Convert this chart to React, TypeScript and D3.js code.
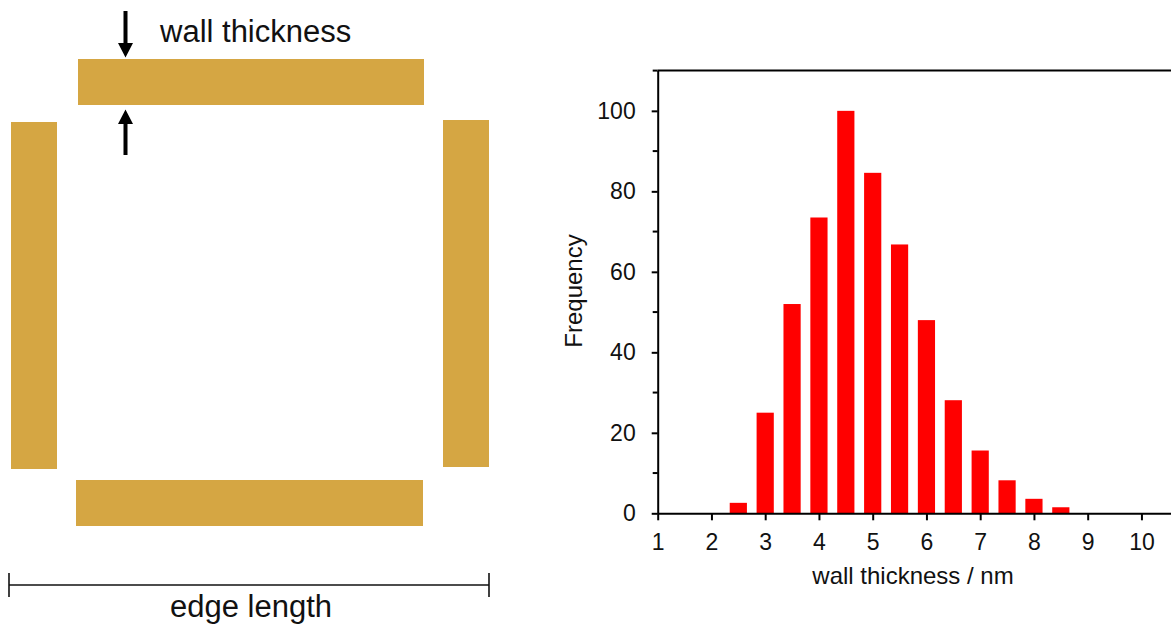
import React, { useEffect, useRef } from 'react';
import * as d3 from 'd3';

// histogram data (wall thickness in nm, bin centres)
const binCenters = [2.5, 3, 3.5, 4, 4.5, 5, 5.5, 6, 6.5, 7, 7.5, 8, 8.5];
const frequencies = [2.6, 25, 52, 73.5, 100, 84.6, 66.8, 48, 28.1, 15.6, 8.2, 3.6, 1.5];
const xTickValues = [1, 2, 3, 4, 5, 6, 7, 8, 9, 10];
const yTickValues = [0, 20, 40, 60, 80, 100];
const yMinorTicks = [10, 30, 50, 70, 90, 110];

// schematic square: the four walls [x, y, w, h]
const walls = [
  [78, 59, 346, 46],
  [11, 122, 46, 347],
  [443, 120, 46, 347],
  [76, 480, 347, 46],
];

const FONT = '"Liberation Sans", Arial, sans-serif';
const WALL = '#d5a643';

const App = () => {
  const svgRef = useRef<SVGSVGElement>(null);

  useEffect(() => {
    const svg = d3.select(svgRef.current);
    svg.selectAll('*').remove();

    // ---------- schematic ----------
    const sch = svg.append('g');
    sch.selectAll('rect.wall')
      .data(walls)
      .enter().append('rect')
      .attr('class', 'wall')
      .attr('x', d => d[0])
      .attr('y', d => d[1])
      .attr('width', d => d[2])
      .attr('height', d => d[3])
      .attr('fill', WALL);

    // arrows pointing at the top wall
    const ax = 125.5;
    const downArrow = `M${ax - 2},11 L${ax + 2},11 L${ax + 2},43 L${ax + 7.5},43 L${ax},57.5 L${ax - 7.5},43 L${ax - 2},43 Z`;
    const upArrow = `M${ax - 2},155 L${ax + 2},155 L${ax + 2},124 L${ax + 7.5},124 L${ax},109.5 L${ax - 7.5},124 L${ax - 2},124 Z`;
    sch.append('path').attr('d', downArrow).attr('fill', '#000');
    sch.append('path').attr('d', upArrow).attr('fill', '#000');

    sch.append('text')
      .attr('x', 160)
      .attr('y', 42)
      .attr('font-family', FONT)
      .attr('font-size', 31)
      .attr('fill', '#111')
      .text('wall thickness');

    // edge length dimension line
    sch.append('line').attr('x1', 9).attr('x2', 489).attr('y1', 585).attr('y2', 585)
      .attr('stroke', '#111').attr('stroke-width', 1.6);
    [9, 489].forEach(x => {
      sch.append('line').attr('x1', x).attr('x2', x).attr('y1', 573).attr('y2', 597)
        .attr('stroke', '#111').attr('stroke-width', 1.6);
    });
    sch.append('text')
      .attr('x', 251)
      .attr('y', 617)
      .attr('text-anchor', 'middle')
      .attr('font-family', FONT)
      .attr('font-size', 31)
      .attr('fill', '#111')
      .text('edge length');

    // ---------- histogram ----------
    const x = d3.scaleLinear().domain([1, 10.55]).range([657.7, 1171]);
    const y = d3.scaleLinear().domain([0, 110]).range([513.3, 70.6]);
    const barW = x(1.32) - x(1);

    const g = svg.append('g');

    g.selectAll('rect.bar')
      .data(binCenters)
      .enter().append('rect')
      .attr('class', 'bar')
      .attr('x', d => x(d) - barW / 2)
      .attr('width', barW)
      .attr('y', (d, i) => y(frequencies[i]))
      .attr('height', (d, i) => y(0) - y(frequencies[i]))
      .attr('fill', '#ff0000');

    // top frame
    g.append('line')
      .attr('x1', x(1)).attr('x2', 1171)
      .attr('y1', y(110)).attr('y2', y(110))
      .attr('stroke', '#000').attr('stroke-width', 2);

    const xAxis = g.append('g')
      .attr('transform', `translate(0,${y(0)})`)
      .call(d3.axisBottom(x).tickValues(xTickValues).tickSize(7).tickPadding(13).tickSizeOuter(0));
    xAxis.select('.domain').attr('stroke-width', 2);
    xAxis.selectAll('.tick line').attr('stroke-width', 2);
    xAxis.selectAll('text').attr('font-family', FONT).attr('font-size', 23).attr('fill', '#111');

    const yAxis = g.append('g')
      .attr('transform', `translate(${x(1)},0)`)
      .call(d3.axisLeft(y).tickValues(yTickValues).tickSize(6).tickPadding(16).tickSizeOuter(0));
    yAxis.select('.domain').attr('stroke-width', 2);
    yAxis.selectAll('.tick line').attr('stroke-width', 2);
    yAxis.selectAll('text').attr('font-family', FONT).attr('font-size', 23).attr('fill', '#111');

    g.append('g')
      .selectAll('line')
      .data(yMinorTicks)
      .enter().append('line')
      .attr('x1', x(1) - 5).attr('x2', x(1))
      .attr('y1', d => y(d)).attr('y2', d => y(d))
      .attr('stroke', '#000').attr('stroke-width', 2);

    g.append('text')
      .attr('x', 913)
      .attr('y', 584)
      .attr('text-anchor', 'middle')
      .attr('font-family', FONT)
      .attr('font-size', 24)
      .attr('fill', '#111')
      .text('wall thickness / nm');

    g.append('text')
      .attr('transform', 'translate(582,291) rotate(-90)')
      .attr('text-anchor', 'middle')
      .attr('font-family', FONT)
      .attr('font-size', 24)
      .attr('fill', '#111')
      .text('Frequency');
  }, []);

  return (
    <svg
      ref={svgRef}
      width={1171}
      height={628}
      style={{ position: 'absolute', left: 0, top: 0, background: '#fff' }}
    />
  );
};

export default App;
